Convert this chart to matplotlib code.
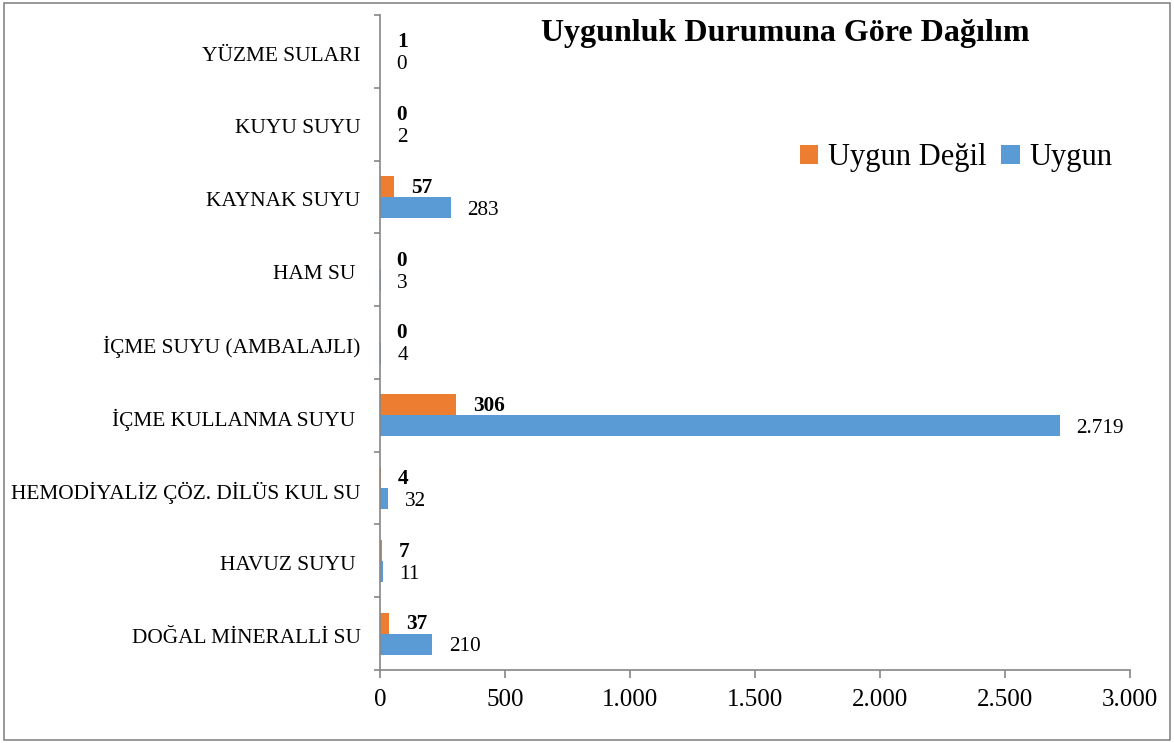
import matplotlib.pyplot as plt
from matplotlib.patches import Rectangle
from matplotlib.ticker import FuncFormatter

plt.rcParams['font.family'] = ['Liberation Serif', 'DejaVu Serif']

categories = ["DOĞAL MİNERALLİ SU", "HAVUZ SUYU ", "HEMODİYALİZ ÇÖZ. DİLÜS KUL SU",
              "İÇME KULLANMA SUYU ", "İÇME SUYU (AMBALAJLI)", "HAM SU ",
              "KAYNAK SUYU", "KUYU SUYU", "YÜZME SULARI"]
uygun = [210, 11, 32, 2719, 4, 3, 283, 2, 0]
uygun_degil = [37, 7, 4, 306, 0, 0, 57, 0, 1]

blue = '#5B9BD5'
orange = '#ED7D31'
grey = '#868686'

def tr_num(v):
    return f"{int(v):,}".replace(",", ".")

fig = plt.figure(figsize=(11.74, 7.43), dpi=100)
ax = fig.add_axes([380/1174, 1-670/743, 750/1174, 655/743])

h = 0.29
y = list(range(len(categories)))
ax.barh([i - h/2 for i in y], uygun, height=h, color=blue, label='Uygun')
ax.barh([i + h/2 for i in y], uygun_degil, height=h, color=orange, label='Uygun Değil')

for i in y:
    ax.annotate(tr_num(uygun_degil[i]), (uygun_degil[i], i + h/2), xytext=(12, -1),
                textcoords='offset points', va='center', ha='left',
                fontsize=15.3, fontweight='bold')
    ax.annotate(tr_num(uygun[i]), (uygun[i], i - h/2), xytext=(12, -2),
                textcoords='offset points', va='center', ha='left', fontsize=15.3)

ax.set_xlim(0, 3000)
ax.set_ylim(-0.5, len(categories) - 0.5)
ax.set_xticks([0, 500, 1000, 1500, 2000, 2500, 3000])
ax.xaxis.set_major_formatter(FuncFormatter(lambda v, p: tr_num(v)))
ax.set_yticks([i - 0.5 for i in range(len(categories) + 1)], minor=False)
ax.set_yticklabels([])
ax.set_yticks([i - 0.03 for i in y], minor=True)
ax.set_yticklabels(categories, minor=True, fontsize=15.4)
ax.tick_params(axis='y', which='minor', length=0, pad=14)
ax.tick_params(axis='y', which='major', length=4, color=grey, width=1.2)
ax.tick_params(axis='x', length=6, color=grey, width=1.2, labelsize=18, pad=8)

for s in ['top', 'right']:
    ax.spines[s].set_visible(False)
for s in ['left', 'bottom']:
    ax.spines[s].set_color(grey)
    ax.spines[s].set_linewidth(1.2)

handles, labels = ax.get_legend_handles_labels()
ax.legend(handles[::-1], labels[::-1], ncol=2, frameon=False, fontsize=22,
          handlelength=0.6, handleheight=0.6, handletextpad=0.3, columnspacing=0.5,
          loc='center', bbox_to_anchor=(956/1174, 1-158/743),
          bbox_transform=fig.transFigure)

fig.text(785/1174, 1-34/743, "Uygunluk Durumuna Göre Dağılım", ha='center',
         va='center', fontsize=23, fontweight='bold')

fig.patches.append(Rectangle((4/1174, 3/743), 1166/1174, 737/743, fill=False,
                             edgecolor=grey, linewidth=1.2, transform=fig.transFigure))

fig.savefig('out.png', dpi=100)
